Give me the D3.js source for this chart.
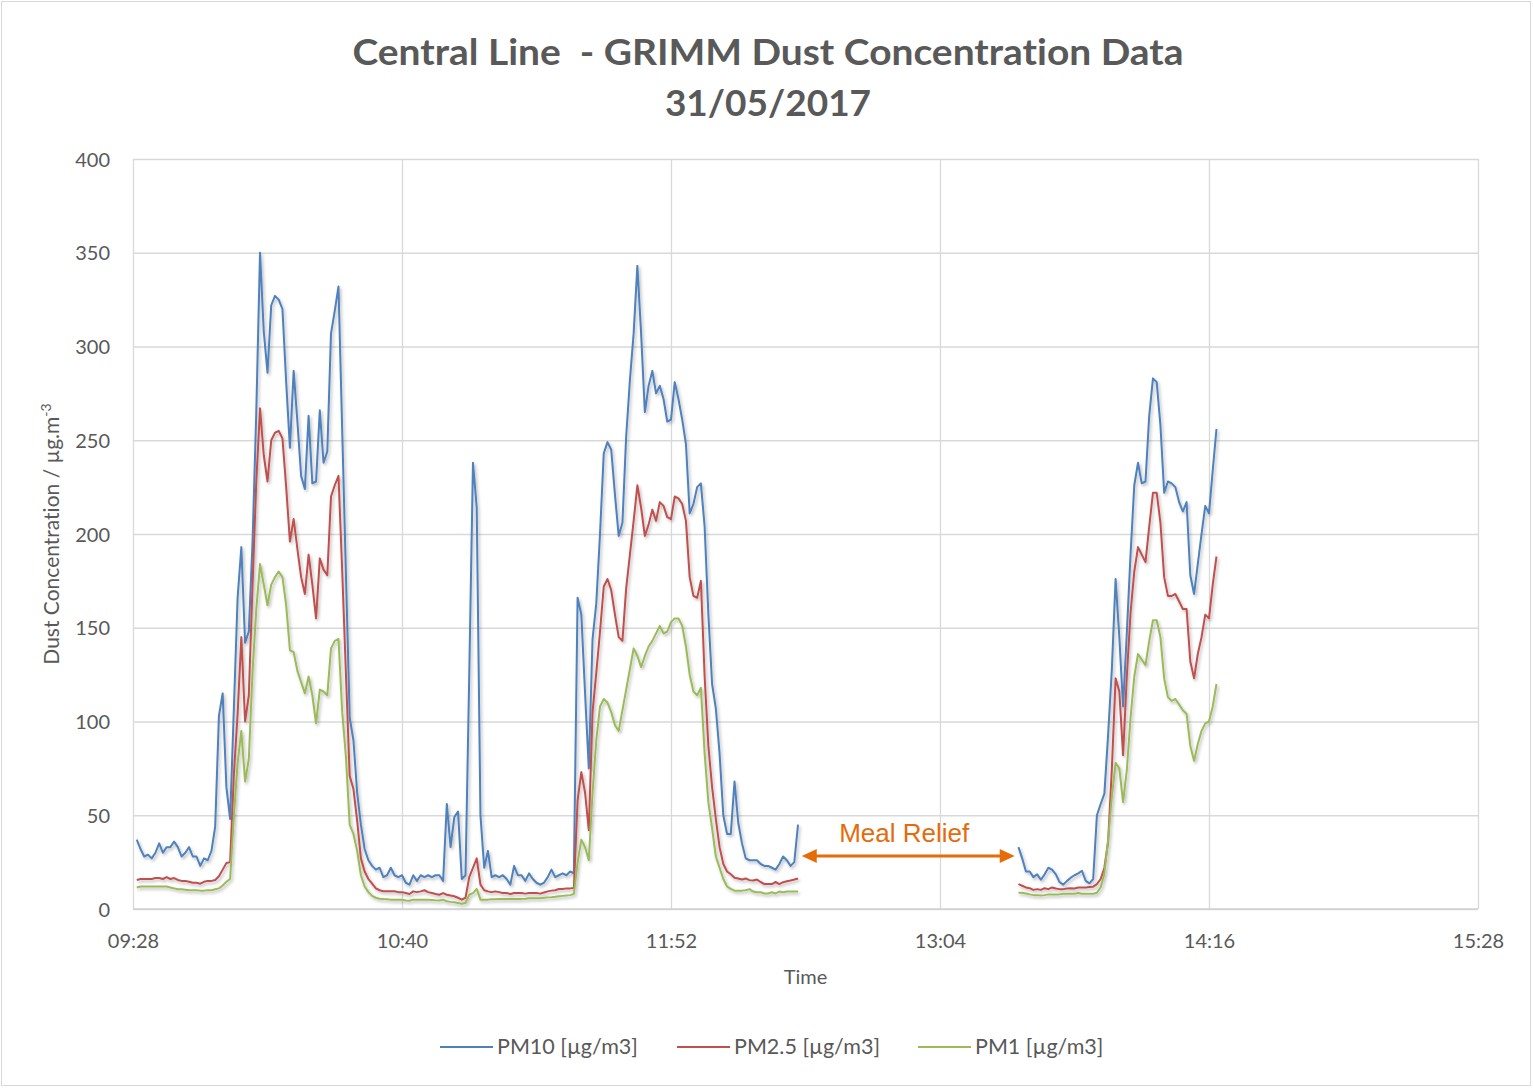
<!DOCTYPE html>
<html>
<head>
<meta charset="utf-8">
<script src="https://cdnjs.cloudflare.com/ajax/libs/d3/7.8.5/d3.min.js"></script>
<style>
  body { margin: 0; background: #fff; }
  text { font-family: Lato, "Open Sans", sans-serif; fill: #595959; font-variant-ligatures: none; }
</style>
</head>
<body>
<script>
// series names and colours (Office 2007 palette)
const seriesNames = ['PM10 [µg/m3]', 'PM2.5 [µg/m3]', 'PM1 [µg/m3]'];
const seriesColors = ['#4F81BD', '#C0504D', '#9BBB59'];

// one reading per minute; measurement stops for the meal relief
const seg1Start = '09:29';
const seg2Start = '13:25';

const pm10Seg1 = [
  37, 32, 28, 29, 27, 30, 35, 30, 33, 33,
  36, 33, 28, 30, 33, 28, 28, 23, 27, 26,
  31, 44, 103, 115, 65, 48, 107, 166, 193, 142,
  148, 196, 265, 350, 308, 286, 322, 327, 325, 320,
  281, 246, 287, 260, 231, 224, 263, 227, 228, 266,
  238, 244, 307, 319, 332, 255, 178, 102, 90, 62,
  45, 32, 26, 23, 21, 22, 17, 18, 22, 18,
  17, 18, 14, 13, 18, 15, 18, 17, 18, 17,
  18, 18, 15, 56, 33, 49, 52, 16, 18, 125,
  238, 214, 50, 22, 31, 17, 18, 17, 18, 16,
  13, 23, 18, 18, 15, 19, 16, 14, 13, 14,
  17, 21, 17, 18, 19, 18, 20, 19, 166, 157,
  115, 75, 144, 163, 200, 243, 249, 245, 221, 199,
  206, 252, 282, 307, 343, 307, 265, 279, 287, 275,
  279, 272, 260, 261, 281, 272, 261, 248, 211, 216,
  225, 227, 204, 157, 120, 107, 83, 50, 40, 40,
  68, 46, 35, 27, 26, 26, 26, 24, 23, 23,
  22, 21, 24, 28, 26, 23, 25, 45
];
const pm25Seg1 = [
  15.5, 16, 16, 16, 16, 16.5, 16.5, 16, 17, 16,
  16.5, 15.5, 15, 15, 14.5, 14, 14, 13.5, 14.5, 15,
  15, 15.5, 17.5, 21, 24.5, 25, 72, 104, 145, 100,
  114, 173, 228, 267, 242, 228, 250, 254, 255, 251,
  225, 196, 208, 192, 177, 168, 189, 173, 155, 187,
  181, 178, 220, 226, 231, 180, 125, 71, 64, 47,
  27, 20, 16, 13.5, 11, 10, 9.5, 9.5, 9.5, 9.5,
  9, 9, 8.5, 8, 9.4, 9, 9.4, 10, 9, 8.5,
  8, 7.6, 8.5, 7.6, 7.2, 6.8, 6, 5, 6, 17,
  22, 27, 13, 10, 9.4, 9, 9.4, 9, 8.5, 8.5,
  8, 8.5, 8.5, 8.5, 8.2, 8.5, 8.5, 8.5, 8.2, 8.8,
  9.4, 9.8, 10, 10.7, 10.7, 11, 11, 11.2, 58, 73,
  62, 42, 105, 126, 148, 172, 176, 170, 157, 145,
  143, 171, 189, 207, 226, 214, 199, 205, 213, 207,
  217, 215, 209, 208, 220, 219, 216, 207, 177, 167,
  166, 175, 124, 87, 65, 48, 33, 24, 20, 18.5,
  16.7, 16.3, 15.7, 16.3, 15.4, 15.2, 15.7, 14.4, 13.3, 13.3,
  13.3, 14.4, 13.3, 14.3, 14.8, 15.2, 15.7, 16.3
];
const pm1Seg1 = [
  11.5, 12, 12, 12, 12, 12, 12, 12, 12, 11.5,
  11, 10.5, 10.5, 10.3, 10, 10, 10, 9.8, 9.8, 10,
  10, 10.5, 11, 12.5, 14.5, 16, 50, 78, 95, 68,
  80, 127, 160, 184, 173, 162, 173, 177, 180, 177,
  162, 138, 137, 127, 121, 115, 124, 114, 99, 117,
  116, 114, 139, 143, 144, 105, 81, 45, 40, 31,
  18, 12, 9, 7, 6, 5.5, 5.3, 5.2, 5, 5,
  5, 5, 4.5, 4.4, 5, 5, 5, 5, 5, 4.8,
  4.6, 4.5, 5, 4.1, 3.8, 3.6, 3.2, 2.8, 3.2, 7.6,
  8.5, 10.7, 5, 5, 5, 5.2, 5.2, 5.3, 5.3, 5.3,
  5.3, 5.4, 5.4, 5.4, 5.5, 5.7, 5.7, 5.8, 5.8, 6,
  6.2, 6.3, 6.5, 6.8, 7, 7.2, 7.4, 8, 25, 37,
  33, 26, 62, 90, 108, 112, 110, 105, 98, 95,
  106, 117, 128, 139, 135, 129, 135, 140, 143, 147,
  151, 147, 148, 153, 155, 155, 151, 140, 125, 116,
  114, 118, 83, 57, 43, 28, 22, 16, 12, 10.7,
  9.8, 9.8, 9.8, 10, 10.6, 9.3, 8.9, 8.9, 8.3, 8.3,
  8.9, 8.3, 9.3, 8.9, 9.3, 9.3, 9.3, 9.3
];

const pm10Seg2 = [
  33, 27, 20, 20, 17, 18.5, 15.6, 18.5, 22, 21,
  18.5, 14.3, 13, 15, 16.7, 18, 19, 20.4, 15, 13.7,
  16, 50, 56, 61.5, 93, 128, 176, 145, 108, 147,
  189, 226, 238, 227, 228, 263, 283, 281, 258, 222,
  228, 227, 225, 217, 212, 217, 178, 168, 184, 200,
  215, 211, 234, 256
];
const pm25Seg2 = [
  13.3, 12.4, 11.5, 11.1, 10.2, 10.6, 10.2, 11.1, 10.6, 11.5,
  10.9, 10.6, 10.6, 10.9, 11.1, 10.9, 11.5, 11.5, 11.5, 11.7,
  11.9, 13.3, 16, 22, 36, 75, 123, 116, 82, 124,
  158, 180, 193, 189, 185, 204, 222, 222, 206, 177,
  167, 167, 168, 164, 160, 160, 132, 123, 136, 145,
  157, 155, 173, 188
];
const pm1Seg2 = [
  8.7, 8.7, 8.3, 7.8, 7.4, 7.4, 7.2, 7.4, 7.8, 7.8,
  7.8, 7.8, 8.1, 8.1, 8.1, 8.1, 8.5, 8.1, 8.1, 8.1,
  8.1, 8.7, 11.5, 19, 37, 60, 78, 75, 57, 74,
  102, 124, 136, 133, 130, 143, 154, 154, 145, 123,
  113, 111, 112, 109, 106, 104, 87, 79, 88, 95,
  99, 100, 108, 120
];

// axes
const xTickLabels = ['09:28', '10:40', '11:52', '13:04', '14:16', '15:28'];
const yTicks = [0, 50, 100, 150, 200, 250, 300, 350, 400];

// annotation
const mealLabel = 'Meal Relief';
const mealFrom = '12:27';
const mealTo = '13:24';

const parseTime = d3.timeParse('%H:%M');

function toRows(start, values) {
  const t0 = parseTime(start);
  return values.map((v, i) => ({ t: d3.timeMinute.offset(t0, i), v: v }));
}

const series = [
  [toRows(seg1Start, pm10Seg1), toRows(seg2Start, pm10Seg2)],
  [toRows(seg1Start, pm25Seg1), toRows(seg2Start, pm25Seg2)],
  [toRows(seg1Start, pm1Seg1), toRows(seg2Start, pm1Seg2)]
];

const W = 1533, H = 1088;
const plotLeft = 133, plotRight = 1478, plotTop = 159, plotBottom = 909;

const svg = d3.select('body').append('svg')
  .attr('width', W)
  .attr('height', H);

svg.append('rect')
  .attr('x', 1.5).attr('y', 1.5)
  .attr('width', W - 4).attr('height', H - 4)
  .attr('fill', '#fff')
  .attr('stroke', '#D9D9D9');

const defs = svg.append('defs');
const shadow = defs.append('filter')
  .attr('id', 'shadow')
  .attr('x', '-5%').attr('y', '-5%')
  .attr('width', '110%').attr('height', '110%');
shadow.append('feDropShadow')
  .attr('dx', 1.5).attr('dy', 2)
  .attr('stdDeviation', 1.6)
  .attr('flood-color', '#000')
  .attr('flood-opacity', 0.28);

const xScale = d3.scaleTime()
  .domain([parseTime(xTickLabels[0]), parseTime(xTickLabels[xTickLabels.length - 1])])
  .range([plotLeft, plotRight]);

const yScale = d3.scaleLinear()
  .domain([0, 400])
  .range([plotBottom, plotTop]);

// gridlines
const yGrid = svg.append('g')
  .attr('class', 'ygrid')
  .attr('transform', 'translate(' + plotLeft + ',0)')
  .call(d3.axisLeft(yScale).tickValues(yTicks).tickSize(-(plotRight - plotLeft)).tickPadding(23));
yGrid.select('.domain').remove();
yGrid.selectAll('line').attr('stroke', '#D9D9D9').attr('stroke-width', 1.3);
yGrid.selectAll('text')
  .style('font-size', '20px')
  .attr('dy', '0.35em');

const xGrid = svg.append('g')
  .attr('class', 'xgrid')
  .attr('transform', 'translate(0,' + plotBottom + ')')
  .call(d3.axisBottom(xScale)
    .tickValues(xTickLabels.map(parseTime))
    .tickFormat(d3.timeFormat('%H:%M'))
    .tickSize(-(plotBottom - plotTop))
    .tickPadding(25));
xGrid.select('.domain').remove();
xGrid.selectAll('line').attr('stroke', '#D9D9D9').attr('stroke-width', 1.3);
xGrid.selectAll('text').style('font-size', '20px');

// axis line
svg.append('line')
  .attr('x1', plotLeft).attr('x2', plotRight)
  .attr('y1', plotBottom).attr('y2', plotBottom)
  .attr('stroke', '#D0D0D0')
  .attr('stroke-width', 1.5);

// lines
const line = d3.line()
  .x(d => xScale(d.t))
  .y(d => yScale(d.v));

const plot = svg.append('g').attr('filter', 'url(#shadow)');
series.forEach((segs, i) => {
  plot.selectAll(null)
    .data(segs)
    .enter()
    .append('path')
    .attr('d', line)
    .attr('fill', 'none')
    .attr('stroke', seriesColors[i])
    .attr('stroke-width', 2)
    .attr('stroke-linejoin', 'round');
});

// meal relief arrow
const mealY = 28.3;
const ax1 = xScale(parseTime(mealFrom)), ax2 = xScale(parseTime(mealTo));
const ay = yScale(mealY);
const orange = '#E46C0A';
svg.append('line')
  .attr('x1', ax1 + 10).attr('x2', ax2 - 10)
  .attr('y1', ay).attr('y2', ay)
  .attr('stroke', orange)
  .attr('stroke-width', 3);
svg.append('path')
  .attr('d', `M${ax1},${ay} L${ax1 + 15},${ay - 7} L${ax1 + 15},${ay + 7} Z`)
  .attr('fill', orange);
svg.append('path')
  .attr('d', `M${ax2},${ay} L${ax2 - 15},${ay - 7} L${ax2 - 15},${ay + 7} Z`)
  .attr('fill', orange);
svg.append('text')
  .attr('x', (ax1 + ax2) / 2 - 4)
  .attr('y', ay - 14)
  .attr('text-anchor', 'middle')
  .style('font-family', '"Liberation Sans", Arial, sans-serif')
  .style('font-size', '26px')
  .style('fill', orange)
  .text(mealLabel);

// title
svg.append('text')
  .attr('class', 'title')
  .attr('x', 768).attr('y', 65)
  .attr('text-anchor', 'middle')
  .attr('textLength', 831)
  .attr('lengthAdjust', 'spacingAndGlyphs')
  .style('white-space', 'pre')
  .style('font-size', '37px')
  .style('font-weight', 'bold')
  .text('Central Line  - GRIMM Dust Concentration Data');
svg.append('text')
  .attr('class', 'title')
  .attr('x', 768).attr('y', 116)
  .attr('text-anchor', 'middle')
  .style('font-size', '37px')
  .style('font-weight', 'bold')
  .text('31/05/2017');

// axis titles
svg.append('text')
  .attr('x', (plotLeft + plotRight) / 2).attr('y', 984)
  .attr('text-anchor', 'middle')
  .style('font-size', '20px')
  .text('Time');

const yTitle = svg.append('text')
  .attr('transform', 'translate(59,' + (plotTop + plotBottom) / 2 + ') rotate(-90)')
  .attr('text-anchor', 'middle')
  .style('font-size', '21px');
yTitle.append('tspan').text('Dust Concentration / µg.m');
yTitle.append('tspan').attr('dy', -8).style('font-size', '14px').text('-3');

// legend
const legendX = [440, 677, 918];
const legend = svg.append('g').attr('class', 'legend');
seriesNames.forEach((name, i) => {
  const g = legend.append('g').attr('transform', 'translate(' + legendX[i] + ',1047)');
  g.append('line')
    .attr('x1', 0).attr('x2', 53)
    .attr('stroke', seriesColors[i])
    .attr('stroke-width', 2);
  g.append('text')
    .attr('x', 57).attr('y', 7)
    .style('font-size', '21.5px')
    .text(name);
});
</script>
</body>
</html>
